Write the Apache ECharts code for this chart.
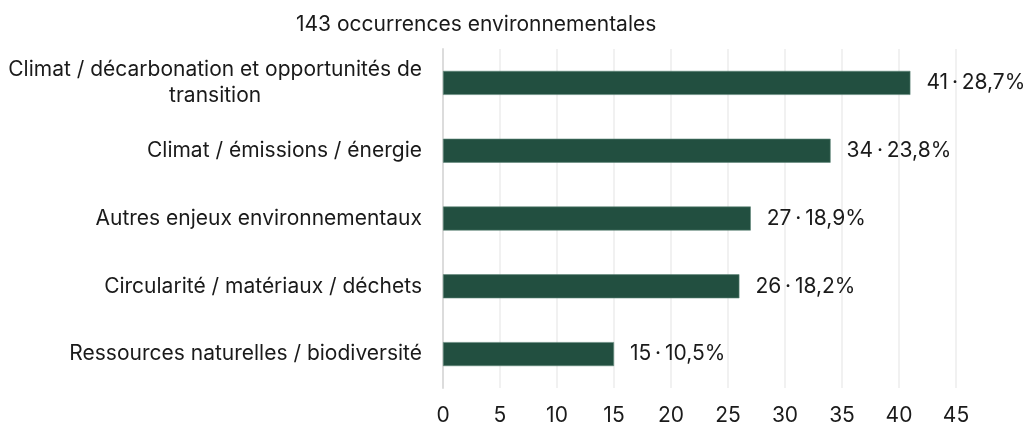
<!DOCTYPE html>
<html>
<head>
<meta charset="utf-8">
<script src="https://cdn.jsdelivr.net/npm/echarts@6/dist/echarts.min.js"></script>
<style>
html,body{margin:0;padding:0;background:#fff;}
#chart{width:1028px;height:426px;}
</style>
</head>
<body>
<div id="chart"></div>
<script>
const titleText = '143 occurrences environnementales';
const categories = [
  'Climat / décarbonation et opportunités de\ntransition',
  'Climat / émissions / énergie',
  'Autres enjeux environnementaux',
  'Circularité / matériaux / déchets',
  'Ressources naturelles / biodiversité'
];
const counts = [41, 34, 27, 26, 15];
const percents = ['28,7', '23,8', '18,9', '18,2', '10,5'];
const xTicks = [0, 5, 10, 15, 20, 25, 30, 35, 40, 45];

const FONT = 'Inter';
const TXT = '#1a1a1a';
const FS = 21;

const chart = echarts.init(document.getElementById('chart'), null, {renderer: 'canvas'});
chart.setOption({
  animation: false,
  backgroundColor: '#ffffff',
  title: {
    text: titleText,
    left: 291,
    top: 9,
    textStyle: {fontFamily: FONT, fontSize: FS, fontWeight: 'normal', color: TXT}
  },
  grid: {left: 443, right: 72, top: 49, bottom: 35, containLabel: false},
  xAxis: {
    type: 'value',
    min: xTicks[0],
    max: xTicks[xTicks.length - 1],
    interval: 5,
    axisLine: {show: false},
    axisTick: {show: false},
    splitLine: {show: true, lineStyle: {color: '#ececec', width: 1.5}},
    axisLabel: {fontFamily: FONT, fontSize: FS, color: TXT, margin: 17}
  },
  yAxis: {
    type: 'category',
    data: categories,
    inverse: true,
    axisLine: {show: true, lineStyle: {color: '#dcdcdc', width: 2}},
    axisTick: {show: false},
    axisLabel: {
      margin: 21,
      fontFamily: FONT,
      fontSize: FS,
      color: TXT,
      lineHeight: 26,
      formatter: function (v) {
        return v.split('\n').map(function (l) { return '{c|' + l + '}'; }).join('\n');
      },
      rich: {c: {align: 'center', fontFamily: FONT, fontSize: FS, color: TXT, lineHeight: 26}}
    }
  },
  series: [{
    type: 'bar',
    data: counts,
    barWidth: 24,
    itemStyle: {color: '#224f40', borderColor: '#5f8778', borderWidth: 0.6},
    label: {
      show: true,
      position: 'right',
      distance: 16,
      fontFamily: FONT,
      fontSize: FS,
      color: TXT,
      formatter: function (p) { return p.value + '\u2009·\u2009' + percents[p.dataIndex] + '%'; }
    }
  }]
});
</script>
</body>
</html>
